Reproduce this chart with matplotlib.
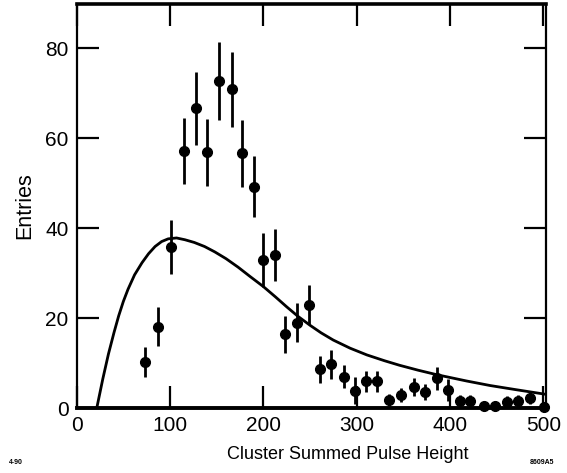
import numpy as np
import matplotlib
matplotlib.use("Agg")
import matplotlib.pyplot as plt

plt.rcParams['font.family'] = ['Liberation Sans', 'DejaVu Sans']

# measured points (bin centre, entries, error)
pulse = [73, 87, 101, 115, 128, 140, 153, 166, 177, 190, 200, 213, 223, 236, 249,
         261, 273, 286, 298, 310, 322, 335, 348, 361, 373, 386, 398, 411, 422, 436,
         448, 461, 473, 486, 501]
entries = [10.3, 18.1, 35.8, 57.1, 66.6, 56.8, 72.7, 70.8, 56.6, 49.2, 32.9, 34.0, 16.4, 19.0, 23.0,
           8.6, 9.7, 7.0, 3.8, 5.9, 5.9, 1.8, 2.9, 4.7, 3.6, 6.6, 4.0, 1.6, 1.6, 0.4,
           0.4, 1.4, 1.6, 2.3, 0.3]
errs = [3.3, 4.3, 6.1, 7.4, 8.2, 7.4, 8.6, 8.4, 7.5, 6.8, 5.9, 5.8, 4.1, 4.4, 4.4,
        3.0, 3.3, 2.5, 3.0, 2.4, 2.4, 1.3, 1.5, 2.0, 1.8, 2.6, 2.5, 1.2, 1.2, 0.6,
        0.6, 1.2, 1.2, 1.5, 0.5]

# expected curve
curve_x = [21.5, 28, 34, 40, 45, 50, 55, 62, 70, 77, 84, 91, 98, 107, 116, 126, 137, 148, 160, 173,
           186, 200, 213, 225, 237, 250, 262, 275, 293, 311, 330, 346, 366, 386, 418, 443, 470, 501]
curve_y = [0, 6.5, 12, 16.8, 20.5, 23.7, 26.4, 29.6, 32.3, 34.3, 35.9, 37.0, 37.6, 37.8, 37.4, 36.8, 35.9, 34.7, 33.2, 31.3,
           29.2, 27.0, 24.7, 22.5, 20.4, 18.4, 16.7, 15.1, 13.3, 11.8, 10.5, 9.5, 8.4, 7.4, 6.0, 5.0, 4.1, 3.1]

fig = plt.figure(figsize=(5.67, 4.73), dpi=100)
ax = fig.add_axes([0.1353, 0.1374, 0.963 - 0.1353, 0.9915 - 0.1374])

ax.plot(curve_x, curve_y, color='black', lw=2.0, solid_joinstyle='round')
ax.errorbar(pulse, entries, yerr=errs, fmt='o', color='black', ms=7,
            elinewidth=2.0, capsize=0, clip_on=False, zorder=3)

ax.set_xlim(0, 503)
ax.set_ylim(0, 89.8)
ax.set_xticks([0, 100, 200, 300, 400, 500])
ax.set_yticks([0, 20, 40, 60, 80])
ax.tick_params(direction='in', length=16, width=1.6, top=True, right=True,
               labelsize=15, pad=6)
ax.tick_params(axis='y', labelright=False)
for side, w in [('left', 1.6), ('right', 1.6), ('top', 2.6), ('bottom', 2.8)]:
    ax.spines[side].set_linewidth(w)

ax.set_xlabel('Cluster Summed Pulse Height', fontsize=13)
ax.xaxis.set_label_coords(0.578, -0.094)
ax.set_ylabel('Entries', fontsize=15.5, labelpad=7)

fig.text(0.015, 0.018, '4-90', fontsize=5, fontweight='bold')
fig.text(0.935, 0.018, '8609A5', fontsize=5, fontweight='bold')

fig.savefig('out.png', dpi=100)
